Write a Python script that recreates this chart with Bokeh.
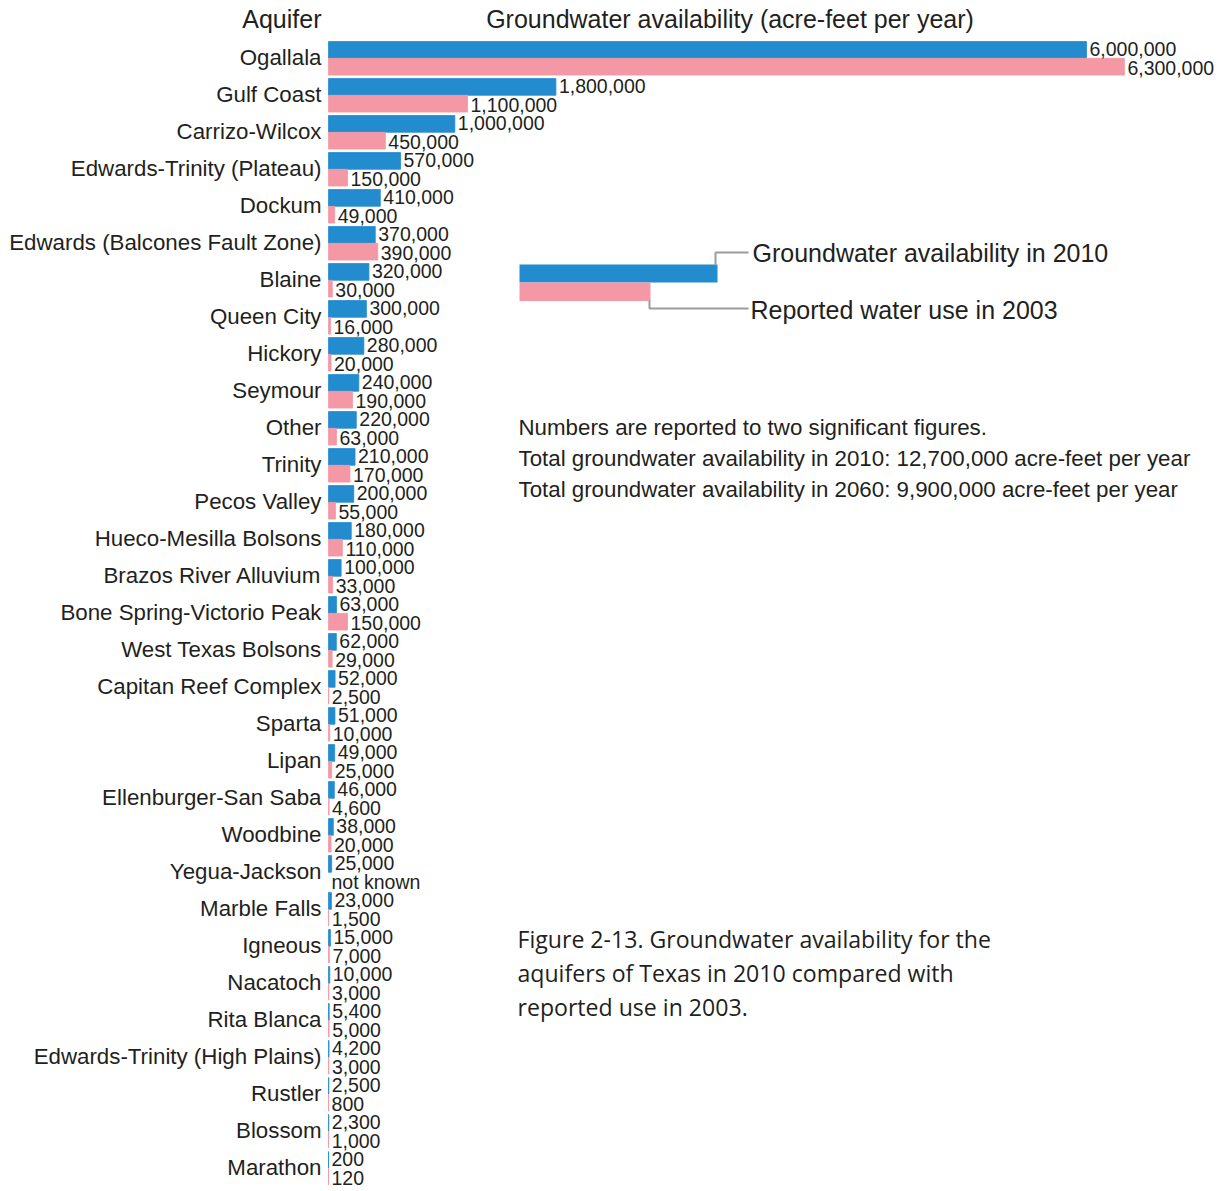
from bokeh.plotting import figure
from bokeh.models import ColumnDataSource, Range1d, Label
from bokeh.core.properties import value
from bokeh.transform import dodge
from bokeh.embed import file_html
from bokeh.resources import INLINE

aquifers = ["Ogallala", "Gulf Coast", "Carrizo-Wilcox", "Edwards-Trinity (Plateau)", "Dockum",
            "Edwards (Balcones Fault Zone)", "Blaine", "Queen City", "Hickory", "Seymour", "Other",
            "Trinity", "Pecos Valley", "Hueco-Mesilla Bolsons", "Brazos River Alluvium",
            "Bone Spring-Victorio Peak", "West Texas Bolsons", "Capitan Reef Complex", "Sparta",
            "Lipan", "Ellenburger-San Saba", "Woodbine", "Yegua-Jackson", "Marble Falls", "Igneous",
            "Nacatoch", "Rita Blanca", "Edwards-Trinity (High Plains)", "Rustler", "Blossom", "Marathon"]
avail_2010 = [6000000, 1800000, 1000000, 570000, 410000, 370000, 320000, 300000, 280000, 240000,
              220000, 210000, 200000, 180000, 100000, 63000, 62000, 52000, 51000, 49000, 46000,
              38000, 25000, 23000, 15000, 10000, 5400, 4200, 2500, 2300, 200]
use_2003 = [6300000, 1100000, 450000, 150000, 49000, 390000, 30000, 16000, 20000, 190000,
            63000, 170000, 55000, 110000, 33000, 150000, 29000, 2500, 10000, 25000, 4600,
            20000, None, 1500, 7000, 3000, 5000, 3000, 800, 1000, 120]

BLUE = "#238ccf"
PINK = "#f498a5"
TEXT = "#231f20"
GRAY = "#9b9b9b"
SANS = "Liberation Sans"

# page-pixel helpers for placing annotations
PX_PER_AF = 126.33 / 1e6
ROW = 37.0
X0, Y0 = 328, 57.8


def X(px):
    return (px - X0) / PX_PER_AF


def Y(py):
    return (py - Y0) / ROW


W, H = 1220, 1189
n = len(aquifers)
idx = list(range(n))
nan = float("nan")

src = ColumnDataSource(dict(
    y=idx,
    name=aquifers,
    a=avail_2010,
    u=[v if v is not None else nan for v in use_2003],
    ux=[v if v is not None else 0 for v in use_2003],
    a_lbl=[f"{v:,}" for v in avail_2010],
    u_lbl=[f"{v:,}" if v is not None else "not known" for v in use_2003],
))

p = figure(width=W, height=H, output_backend="svg", toolbar_location=None,
           x_range=Range1d(X(0), X(W)), y_range=Range1d(Y(H), Y(0)),
           x_axis_location=None, y_axis_location=None, min_border_left=0, min_border_right=0,
           min_border_top=0, min_border_bottom=0)
p.xgrid.visible = False
p.ygrid.visible = False
p.outline_line_color = None

OFF = 8.4 / ROW
BH = 16.7 / ROW
p.hbar(y=dodge("y", -OFF), left=0, right="a", height=BH, source=src,
       fill_color=BLUE, line_color=BLUE, line_width=0.8)
p.hbar(y=dodge("y", OFF), left=0, right="u", height=BH, source=src,
       fill_color=PINK, line_color=PINK, line_width=0.8)

p.text(x="a", y=dodge("y", -OFF), text="a_lbl", source=src, x_offset=3, y_offset=-1,
       text_baseline="middle", text_align="left", text_font=value(SANS),
       text_font_size="19.5px", text_color=TEXT)
p.text(x="ux", y=dodge("y", OFF), text="u_lbl", source=src, x_offset=3, y_offset=1,
       text_baseline="middle", text_align="left", text_font=value(SANS),
       text_font_size="19.5px", text_color=TEXT)

# category labels (left of the zero line)
p.text(x=0, y="y", text="name", source=src, x_offset=-7, y_offset=-1,
       text_baseline="middle", text_align="right", text_font=value(SANS),
       text_font_size="22.3px", text_color=TEXT)

# headers
p.add_layout(Label(x=X(321), y=Y(18), text="Aquifer", text_align="right", text_baseline="middle",
                   text_font=SANS, text_font_size="25px", text_color=TEXT))
p.add_layout(Label(x=X(729.5), y=Y(18), text="Groundwater availability (acre-feet per year)",
                   text_align="center", text_baseline="middle",
                   text_font=SANS, text_font_size="25px", text_color=TEXT))

# legend key
p.quad(left=X(519), right=X(717), top=Y(264), bottom=Y(282), fill_color=BLUE, line_color=None)
p.quad(left=X(519), right=X(650), top=Y(282), bottom=Y(300.5), fill_color=PINK, line_color=None)
p.line(x=[X(715), X(715), X(748)], y=[Y(265), Y(252), Y(252)], line_color=GRAY, line_width=2)
p.line(x=[X(649), X(649), X(748)], y=[Y(300), Y(308), Y(308)], line_color=GRAY, line_width=2)
p.add_layout(Label(x=X(752), y=Y(252), text="Groundwater availability in 2010",
                   text_baseline="middle", text_font=SANS, text_font_size="25px", text_color=TEXT))
p.add_layout(Label(x=X(750), y=Y(309), text="Reported water use in 2003",
                   text_baseline="middle", text_font=SANS, text_font_size="25px", text_color=TEXT))

notes = ["Numbers are reported to two significant figures.",
         "Total groundwater availability in 2010: 12,700,000 acre-feet per year",
         "Total groundwater availability in 2060: 9,900,000 acre-feet per year"]
for k, t in enumerate(notes):
    p.add_layout(Label(x=X(518), y=Y(427 + 31 * k), text=t, text_baseline="middle",
                       text_font=SANS, text_font_size="22.3px", text_color=TEXT))

caption = ["Figure 2-13. Groundwater availability for the",
           "aquifers of Texas in 2010 compared with",
           "reported use in 2003."]
for k, t in enumerate(caption):
    p.add_layout(Label(x=X(517), y=Y(938 + 34 * k), text=t, text_baseline="middle",
                       text_font="Open Sans", text_font_size="23.1px", text_color=TEXT))

open("out.html", "w").write(file_html(p, INLINE))
